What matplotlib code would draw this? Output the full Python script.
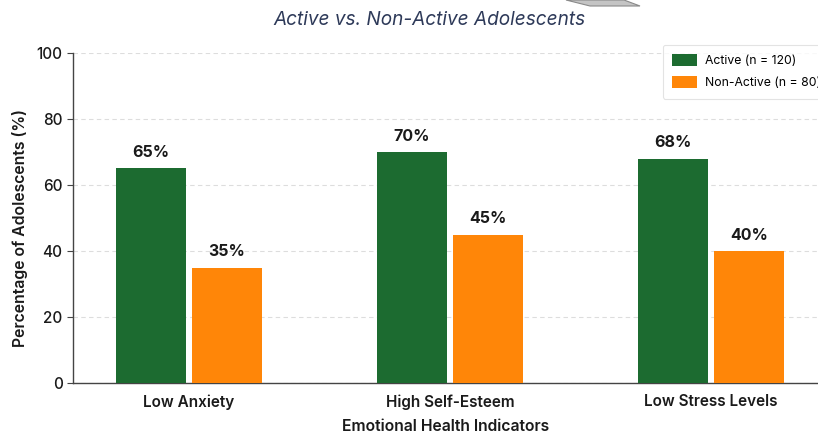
import matplotlib
matplotlib.use("Agg")
import matplotlib.pyplot as plt
import numpy as np
from matplotlib.patches import Polygon

plt.rcParams['font.family'] = ['Inter', 'DejaVu Sans']

categories = ["Low Anxiety", "High Self-Esteem", "Low Stress Levels"]
active = [65, 70, 68]
non_active = [35, 45, 40]
series_labels = ["Active (n = 120)", "Non-Active (n = 80)"]
yticks = [0, 20, 40, 60, 80, 100]

green = "#1c6b30"
orange = "#ff8608"
ink = "#1a1a1a"

fig = plt.figure(figsize=(8.18, 4.33), dpi=100)
ax = fig.add_axes([73 / 818, 1 - 383 / 433, 1 - 73 / 818, (383 - 53) / 433])

x = np.arange(len(categories))
w = 0.27
off = 0.146
b1 = ax.bar(x - off, active, w, color=green, label=series_labels[0], zorder=3)
b2 = ax.bar(x + off, non_active, w, color=orange, label=series_labels[1], zorder=3)

for bars, vals in ((b1, active), (b2, non_active)):
    for r, v in zip(bars, vals):
        ax.annotate(f"{v}%", (r.get_x() + r.get_width() / 2, v),
                    xytext=(0, 6), textcoords="offset points",
                    ha="center", va="bottom", fontsize=11.5, fontweight="bold",
                    color=ink)

ax.set_xlim(-0.444, 2.41)
ax.set_ylim(0, 100)
ax.set_yticks(yticks)
ax.set_xticks(x)
ax.set_xticklabels(categories, fontsize=11, fontweight="semibold", color=ink)
ax.tick_params(axis="x", length=0, pad=8)
ax.tick_params(axis="y", labelsize=11, labelcolor=ink, length=4, color="#444444")
for lbl in ax.get_yticklabels():
    lbl.set_fontweight("medium")

ax.yaxis.grid(True, linestyle=(0, (4, 3)), color="#dddddd", linewidth=0.8, zorder=0)
ax.set_axisbelow(True)
for s in ("top", "right"):
    ax.spines[s].set_visible(False)
for s in ("left", "bottom"):
    ax.spines[s].set_color("#444444")
    ax.spines[s].set_linewidth(1.0)

ax.set_xlabel("Emotional Health Indicators", fontsize=11.3, fontweight="semibold",
              color=ink, labelpad=7)
ax.set_ylabel("Percentage of Adolescents (%)", fontsize=11.4, fontweight="semibold",
              color=ink, labelpad=8)
ax.yaxis.set_label_coords(-0.061, 0.47)

fig.text(0.5 + 20 / 818, 1 - 20 / 433, "Active vs. Non-Active Adolescents",
         ha="center", va="center", fontsize=13.7, style="italic", color="#2e3a59")

leg = fig.legend(handles=[b1, b2], labels=series_labels, loc="upper left",
                 bbox_to_anchor=(663 / 818, 1 - 45 / 433), borderaxespad=0,
                 fontsize=8.8, frameon=True, fancybox=True, edgecolor="#dddddd",
                 handlelength=2.05, handleheight=1.1, borderpad=0.75,
                 labelspacing=0.75, handletextpad=0.65)
leg.get_frame().set_linewidth(0.8)

# small grey shape along the top edge
fig.patches.append(Polygon([(566 / 818, 1.0), (624 / 818, 1.0),
                            (640 / 818, 1 - 6 / 433), (590 / 818, 1 - 6 / 433)],
                           closed=True, transform=fig.transFigure,
                           facecolor="#c4c4c4", edgecolor="#8a8a8a", linewidth=0.8))

fig.savefig("out.png", dpi=100, facecolor="white")
